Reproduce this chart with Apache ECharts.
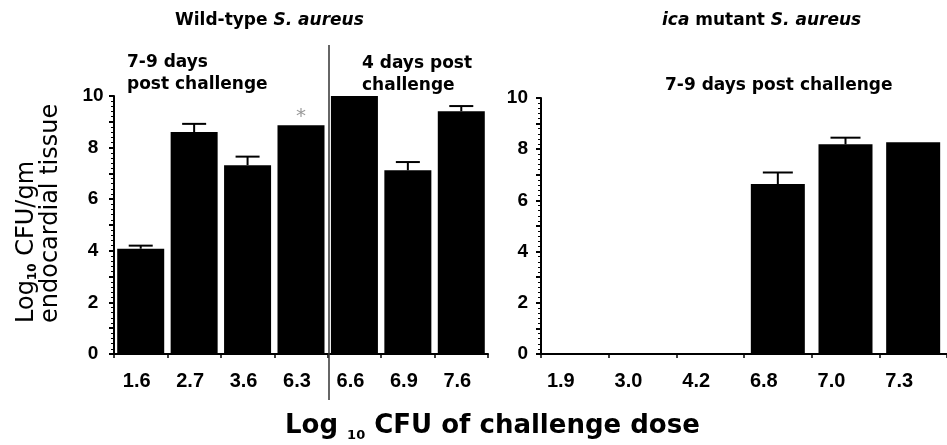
<!DOCTYPE html>
<html>
<head>
<meta charset="utf-8">
<script src="https://cdn.jsdelivr.net/npm/echarts@6/dist/echarts.min.js"></script>
<style>html,body{margin:0;padding:0;background:#fff;}#c{width:947px;height:445px;}</style>
</head>
<body>
<div id="c"></div>
<script>
// ---- data ----
const wtDoses = ['1.6', '2.7', '3.6', '6.3', '6.6', '6.9', '7.6'];
const wtMeans = [4.08, 8.6, 7.32, 8.87, 10.0, 7.12, 9.41];
const wtErrors = [0.12, 0.32, 0.33, 0, 0, 0.32, 0.2];
const wtMarked = [false, false, false, true, false, false, false];

const icaDoses = ['1.9', '3.0', '4.2', '6.8', '7.0', '7.3'];
const icaMeans = [0, 0, 0, 6.64, 8.19, 8.27];
const icaErrors = [0, 0, 0, 0.45, 0.26, 0];

const yTicks = [0, 2, 4, 6, 8, 10];

// ---- styles ----
const FB = 'DejaVu Sans';
const FT = 'Liberation Sans';

function errRender(hw) {
  return function (params, api) {
    const x = api.value(0), m = api.value(1), s = api.value(2);
    if (!s) return null;
    const p0 = api.coord([x, m]);
    const p1 = api.coord([x, m + s]);
    return {
      type: 'group',
      children: [
        { type: 'line', shape: { x1: p0[0], y1: p0[1], x2: p1[0], y2: p1[1] }, style: { stroke: '#000', lineWidth: 2 } },
        { type: 'line', shape: { x1: p1[0] - hw, y1: p1[1], x2: p1[0] + hw, y2: p1[1] }, style: { stroke: '#000', lineWidth: 2 } }
      ]
    };
  };
}

function yAxisCfg(gridIndex, align, margin) {
  return {
    type: 'value', gridIndex: gridIndex, min: 0, max: 10, interval: 1,
    axisLine: { show: true, lineStyle: { color: '#000', width: 2 } },
    axisTick: { show: true, length: 5, lineStyle: { color: '#000', width: 2 } },
    minorTick: { show: true, splitNumber: 5, length: 3, lineStyle: { color: '#000', width: 1 } },
    splitLine: { show: false },
    axisLabel: {
      color: '#000', fontFamily: FT, fontWeight: 'bold', fontSize: 19, align: align, margin: margin,
      formatter: v => (yTicks.indexOf(v) >= 0 ? String(v) : '')
    }
  };
}

function xAxisCfg(gridIndex, cats, pad) {
  return {
    type: 'category', gridIndex: gridIndex, data: cats,
    axisLine: { show: true, lineStyle: { color: '#000', width: 2 } },
    axisTick: { show: true, length: 4, lineStyle: { color: '#000', width: 1.5 } },
    axisLabel: { color: '#000', fontFamily: FT, fontWeight: 'bold', fontSize: 20, margin: 17, padding: pad }
  };
}

const chart = echarts.init(document.getElementById('c'), null, { renderer: 'canvas' });

const option = {
  backgroundColor: '#fff',
  animation: false,
  grid: [
    { left: 114, top: 96, width: 374, height: 258 },
    { left: 541, top: 98, width: 420, height: 256 }
  ],
  xAxis: [xAxisCfg(0, wtDoses, [0, 8, 0, 0]), xAxisCfg(1, icaDoses, [0, 28, 0, 0])],
  yAxis: [yAxisCfg(0, 'center', 21), yAxisCfg(1, 'right', 13)],
  series: [
    {
      type: 'bar', xAxisIndex: 0, yAxisIndex: 0, barWidth: 47,
      itemStyle: { color: '#000' },
      data: wtMeans.map((v, i) => wtMarked[i]
        ? { value: v, label: { show: true, position: 'top', formatter: '*', color: '#999', fontSize: 20, fontFamily: FB, distance: -2 } }
        : v)
    },
    {
      type: 'custom', xAxisIndex: 0, yAxisIndex: 0, renderItem: errRender(12), z: 5,
      data: wtMeans.map((v, i) => [i, v, wtErrors[i]])
    },
    {
      type: 'bar', xAxisIndex: 1, yAxisIndex: 1, barWidth: 54,
      itemStyle: { color: '#000' },
      data: icaMeans
    },
    {
      type: 'custom', xAxisIndex: 1, yAxisIndex: 1, renderItem: errRender(15), z: 5,
      data: icaMeans.map((v, i) => [i, v, icaErrors[i]])
    }
  ],
  graphic: [
    { type: 'line', shape: { x1: 329, y1: 45, x2: 329, y2: 400 }, style: { stroke: '#333', lineWidth: 1.5 }, z: 10 },
    { type: 'text', x: 175, y: 21, style: { text: 'Wild-type {i|S. aureus}', font: 'bold 17px "DejaVu Sans"', fill: '#000', align: 'left', verticalAlign: 'middle',
      rich: { i: { fontStyle: 'italic', fontWeight: 'bold', fontSize: 17, fontFamily: FB } } } },
    { type: 'text', x: 662, y: 21, style: { text: '{i|ica} mutant {i|S. aureus}', font: 'bold 17px "DejaVu Sans"', fill: '#000', align: 'left', verticalAlign: 'middle',
      rich: { i: { fontStyle: 'italic', fontWeight: 'bold', fontSize: 17, fontFamily: FB } } } },
    { type: 'text', x: 127, y: 63, style: { text: '7-9 days', font: 'bold 17px "DejaVu Sans"', fill: '#000', align: 'left', verticalAlign: 'middle' } },
    { type: 'text', x: 127, y: 85, style: { text: 'post challenge', font: 'bold 17px "DejaVu Sans"', fill: '#000', align: 'left', verticalAlign: 'middle' } },
    { type: 'text', x: 362, y: 64, style: { text: '4 days post', font: 'bold 17px "DejaVu Sans"', fill: '#000', align: 'left', verticalAlign: 'middle' } },
    { type: 'text', x: 362, y: 86, style: { text: 'challenge', font: 'bold 17px "DejaVu Sans"', fill: '#000', align: 'left', verticalAlign: 'middle' } },
    { type: 'text', x: 665, y: 86, style: { text: '7-9 days post challenge', font: 'bold 17px "DejaVu Sans"', fill: '#000', align: 'left', verticalAlign: 'middle' } },
    { type: 'text', x: 285, y: 426, style: {
      text: '{a|Log }{s|10}{a| CFU of challenge dose}', align: 'left', verticalAlign: 'middle', fill: '#000',
      rich: {
        a: { fontFamily: FB, fontWeight: 'bold', fontSize: 26, lineHeight: 32, verticalAlign: 'middle' },
        s: { fontFamily: FB, fontWeight: 'bold', fontSize: 13, lineHeight: 32, verticalAlign: 'bottom' }
      } } },
    { type: 'text', x: 39, y: 323, rotation: Math.PI / 2, style: {
      text: '{a|Log}{s|10}{a| CFU/gm}\n{a|endocardial tissue}', align: 'left', verticalAlign: 'middle', fill: '#000',
      rich: {
        a: { fontFamily: FB, fontSize: 24, lineHeight: 24, verticalAlign: 'middle' },
        s: { fontFamily: FB, fontWeight: 'bold', fontSize: 12, lineHeight: 24, verticalAlign: 'bottom' }
      } } }
  ]
};
chart.setOption(option);
</script>
</body>
</html>
